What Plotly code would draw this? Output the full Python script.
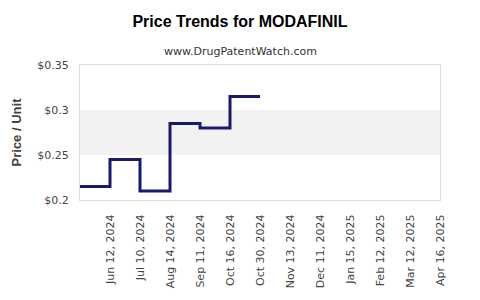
import plotly.graph_objects as go

dates = ["May 15, 2024", "Jun 12, 2024", "Jul 10, 2024", "Aug 14, 2024", "Sep 11, 2024",
         "Oct 16, 2024", "Oct 30, 2024", "Nov 13, 2024", "Dec 11, 2024", "Jan 15, 2025",
         "Feb 12, 2025", "Mar 12, 2025", "Apr 16, 2025"]
price_dates = dates[:7]
prices = [0.215, 0.245, 0.21, 0.285, 0.28, 0.315, 0.315]
tick_labels = dates[1:]
y_ticks = [0.2, 0.25, 0.3, 0.35]
band = [0.25, 0.3]

fig = go.Figure()
fig.add_trace(go.Scatter(x=price_dates, y=prices, mode="lines",
                         line=dict(shape="hv", color="#191970", width=3),
                         hoverinfo="skip"))

fig.add_shape(type="rect", xref="paper", x0=0, x1=1, yref="y", y0=band[0], y1=band[1],
              fillcolor="#f2f2f2", line=dict(width=0), layer="below")

fig.update_layout(
    width=480, height=300,
    margin=dict(l=80, r=40, t=65, b=100),
    paper_bgcolor="white", plot_bgcolor="white",
    showlegend=False,
    font=dict(family="DejaVu Sans", size=11, color="#444"),
    title=dict(text="<b>Price Trends for MODAFINIL</b>", x=0.5, xref="container", xanchor="center",
               y=1 - 21/300, yref="container", yanchor="middle",
               font=dict(family="Liberation Sans", size=16, color="black")),
    annotations=[dict(text="www.DrugPatentWatch.com", xref="paper", yref="paper",
                      x=(240-80)/360, y=1 + 14/135, xanchor="center", yanchor="middle",
                      showarrow=False, font=dict(family="DejaVu Sans", size=11, color="#333"))],
    xaxis=dict(type="category", categoryorder="array", categoryarray=dates,
               range=[0, len(dates) - 1], tickvals=tick_labels, ticktext=tick_labels,
               tickangle=-90, showgrid=False, zeroline=False,
               showline=True, mirror=True, linecolor="#dddddd", linewidth=1,
               ticks="outside", ticklen=9, tickcolor="white",
               tickfont=dict(family="DejaVu Sans", size=11, color="#444")),
    yaxis=dict(range=[0.2, 0.35], tickvals=y_ticks, ticktext=["$" + f"{v:g}" for v in y_ticks],
               showgrid=False, zeroline=False,
               showline=True, mirror=True, linecolor="#dddddd", linewidth=1,
               ticks="outside", ticklen=8, tickcolor="white",
               tickfont=dict(family="DejaVu Sans", size=11, color="#444"),
               title=dict(text="<b>Price / Unit</b>", standoff=12,
                          font=dict(family="Liberation Sans", size=13, color="#444"))),
)

fig.write_html("out.html")
